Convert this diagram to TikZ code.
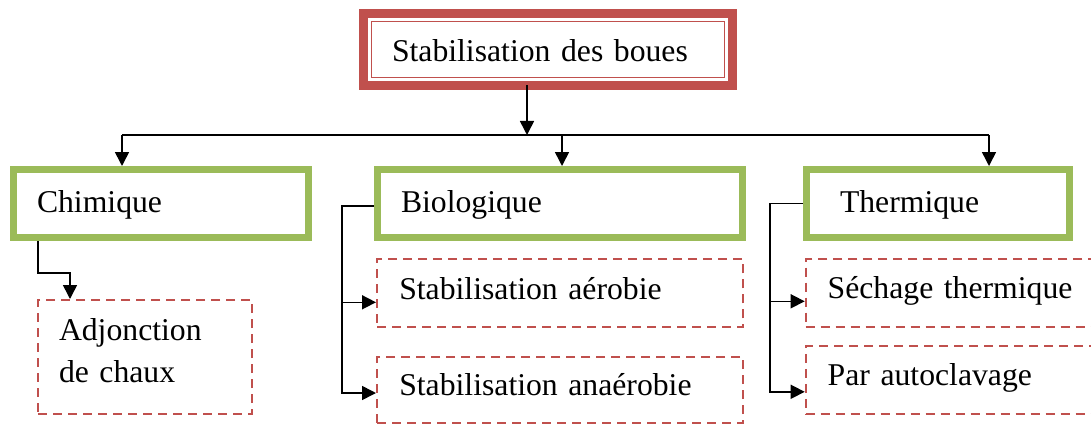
\documentclass[tikz,border=0pt]{standalone}
\usepackage{fontspec}
\setmainfont{Liberation Serif}
\usetikzlibrary{arrows.meta,calc}
\definecolor{bred}{HTML}{C0504D}
\definecolor{bgreen}{HTML}{9BBB59}
\begin{document}
\begin{tikzpicture}[x=1pt,y=-1pt,
  every node/.style={font=\fontsize{31.7}{42}\selectfont, inner ysep=0pt, align=left, text depth=0pt},
  topbox/.style={draw=bred, line width=9pt, outer sep=0pt, rectangle},
  greenbox/.style={draw=bgreen, line width=7pt, rectangle, minimum height=68pt, text height=17pt},
  dashbox/.style={draw=bred, line width=2pt, dash pattern=on 9pt off 6pt, rectangle},
  arr/.style={-{Triangle[length=14pt,width=14pt]}, line width=1.6pt},
  conn/.style={line width=1.6pt}]
\clip (0,0) rectangle (1091,425);
\fill[white] (0,0) rectangle (1091,425);
% top box
\node[topbox, minimum width=369pt, minimum height=72pt, inner xsep=28.5pt, text width=312pt, text height=25pt] (top) at (548,49.5) {Stabilisation des boues};
\draw[bred, line width=1.5pt] ([shift={(8,8)}]top.north west) rectangle ([shift={(-8,-8)}]top.south east);
% green boxes
\node[greenbox, minimum width=295pt, inner xsep=23.5pt, text width=248pt] (chim) at (161,203.5) {Chimique};
\node[greenbox, minimum width=365pt, inner xsep=23.5pt, text width=318pt] (bio) at (560,203.5) {Biologique};
\node[greenbox, minimum width=263pt, inner xsep=33.5pt, text width=196pt] (therm) at (938,203.5) {Thermique};
% dashed boxes
\node[dashbox, minimum width=214pt, minimum height=114pt, inner xsep=21pt, text width=172pt, text height=50pt] (adj) at (145,357) {\begin{tabular}[b]{@{}l@{}}Adjonction\\de chaux\end{tabular}};
\node[dashbox, minimum width=366pt, minimum height=68pt, inner xsep=22.3pt, text width=321.4pt, text height=12pt] (aer) at (560,293.3) {Stabilisation aérobie};
\node[dashbox, minimum width=366pt, minimum height=66pt, inner xsep=22.3pt, text width=321.4pt, text height=10pt] (ana) at (560,390) {Stabilisation anaérobie};
\node[dashbox, minimum width=314.3pt, minimum height=68pt, inner xsep=22pt, text width=270.3pt, text height=10pt] (sech) at (962.85,293.3) {Séchage thermique};
\node[dashbox, minimum width=314.3pt, minimum height=68.3pt, inner xsep=22pt, text width=270.3pt, text height=10.4pt] (autoc) at (962.85,379.8) {Par autoclavage};
% bus
\coordinate (busL) at (122,135);
\coordinate (busR) at (989,135);
\coordinate (busM) at (527,135);
\coordinate (busB) at (562,135);
\draw[conn] (busL) -- (busR);
\draw[arr] (top.south -| busM) -- (busM);
\draw[arr] (busL) -- (busL |- chim.north);
\draw[arr] (busB) -- (busB |- bio.north);
\draw[arr] (busR) -- (busR |- therm.north);
% chimique
\draw[arr] ([xshift=28pt]chim.south west) -- ++(0,32) -| ([xshift=33pt]adj.north west);
% biologique
\coordinate (bt) at (342,206);
\coordinate (ba) at ([shift={(0,9)}]aer.west);
\coordinate (bn) at ([shift={(0,3)}]ana.west);
\draw[arr] (bt -| bio.west) -- (bt) |- (bn);
\draw[arr] (bt |- ba) -- (ba);
% thermique
\coordinate (tt) at (770,203.3);
\coordinate (ts) at ([shift={(0,8)}]sech.west);
\coordinate (ta) at ([shift={(0,12)}]autoc.west);
\draw[arr] (tt -| therm.west) -- (tt) |- (ta);
\draw[arr] (tt |- ts) -- (ts);
\end{tikzpicture}
\end{document}
